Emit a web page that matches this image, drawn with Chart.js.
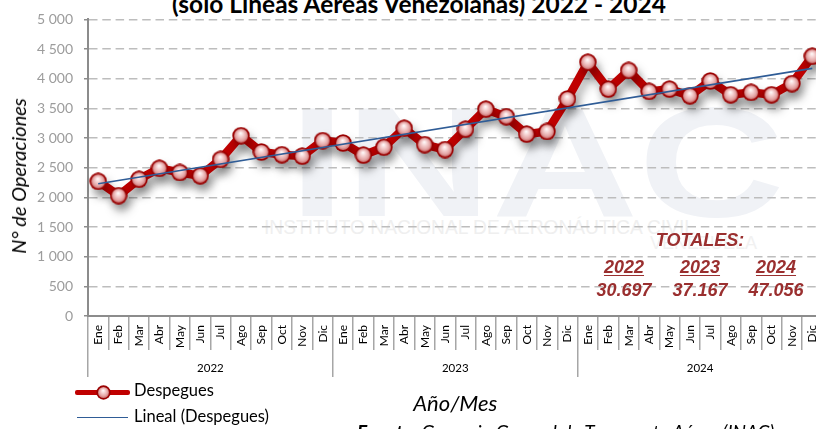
<!DOCTYPE html>
<html><head><meta charset="utf-8">
<script src="https://cdn.jsdelivr.net/npm/chart.js@4"></script>
<style>
html,body{margin:0;padding:0;background:#fff;overflow:hidden;width:816px;height:429px;}
#wrap{position:relative;width:816px;height:429px;overflow:hidden;background:#fff;}
#c{position:absolute;left:0;top:0;z-index:2;}
.wm{position:absolute;white-space:nowrap;line-height:1;z-index:1;transform-origin:0 0;}
.t{position:absolute;white-space:nowrap;line-height:1.2;z-index:3;}
.tot{position:absolute;white-space:nowrap;font-family:"Liberation Sans",Arial,sans-serif;font-weight:bold;font-style:italic;font-size:18px;color:#9A2F2F;line-height:1;transform:translate(-50%,-50%);z-index:3;}
#legend div,#legend canvas{z-index:3;}
</style></head><body>
<div id="wrap">
<div class="wm" style="left:289px;top:84px;font-family:'Liberation Sans';font-weight:bold;font-size:156px;color:#F0F2F6;transform:scaleX(1.3);">INAC</div>
<div class="wm" style="left:264px;top:217px;font-family:'Liberation Sans';font-size:20px;color:#EFEFEF;transform:scaleX(0.96);">INSTITUTO NACIONAL DE AERONÁUTICA CIVIL</div>
<div class="wm" style="left:650px;top:234px;font-family:'Liberation Sans';font-size:18px;color:#F1F1F1;">VENEZUELA</div>
<canvas id="c" width="840" height="429"></canvas>
<div class="t" id="title" style="left:419px;top:-10.7px;transform:translateX(-50%);font-family:Lato;font-weight:bold;font-size:24.5px;background:#fff;color:#000;">(solo Líneas Aéreas Venezolanas) 2022 - 2024</div>
<div class="t" id="ytitle" style="left:18px;top:176px;transform:translate(-50%,-50%) rotate(-90deg);font-family:Lato;font-style:italic;font-size:20px;color:#000;">N° de Operaciones</div>
<div id="totals"></div>
<div id="legend">
  <div style="position:absolute;left:75px;top:389.5px;width:55px;height:5px;background:#C00000;border-radius:2px;"></div>
  <canvas id="lgSphere" width="15" height="15" style="position:absolute;left:95.5px;top:384.5px;"></canvas>
  <div class="t" style="left:134px;top:381px;font-family:Lato;font-size:16.5px;color:#000;">Despegues</div>
  <div style="position:absolute;left:77px;top:416.5px;width:51px;height:1.6px;background:#2F5C96;"></div>
  <div class="t" style="left:134px;top:407px;font-family:Lato;font-size:16.5px;color:#000;">Lineal (Despegues)</div>
</div>
<div class="t" id="src" style="left:357px;top:421px;font-family:Lato;font-style:italic;font-size:19px;color:#000;"><b>Fuente:</b> Gerencia General de Transporte Aéreo (INAC)</div>
</div>
<script>
// ---- data ----
const months = ['Ene','Feb','Mar','Abr','May','Jun','Jul','Ago','Sep','Oct','Nov','Dic'];
const years = ['2022','2023','2024'];
const despegues2022 = [2270, 2030, 2305, 2490, 2420, 2365, 2640, 3040, 2765, 2720, 2695, 2957];
const despegues2023 = [2917, 2712, 2845, 3166, 2889, 2806, 3149, 3487, 3360, 3066, 3111, 3659];
const despegues2024 = [4278, 3825, 4140, 3787, 3825, 3713, 3962, 3730, 3770, 3730, 3918, 4378];
const trendStart = 2230;
const trendEnd = 4175;
const totalLabel = 'TOTALES:';
const totalValues = ['30.697', '37.167', '47.056'];
const yMin = 0, yMax = 5000, yStep = 500;

// ---- build ----
const labels = years.flatMap(() => months);
const values = [...despegues2022, ...despegues2023, ...despegues2024];
const trend = values.map((v, i) => i === 0 ? trendStart : (i === values.length - 1 ? trendEnd : null));
const fmt = v => String(v).replace(/\B(?=(\d{3})+(?!\d))/g, ' ');

function sphere(d) {
  const c = document.createElement('canvas');
  c.width = c.height = d;
  const g = c.getContext('2d');
  const r = d / 2;
  g.beginPath(); g.arc(r, r, r - 0.3, 0, Math.PI * 2); g.fillStyle = '#9A0000'; g.fill();
  const gr = g.createRadialGradient(r * 0.95, r * 0.7, 0, r, r, r - 1.8);
  gr.addColorStop(0, '#FFFFFF');
  gr.addColorStop(0.3, '#F8DADA');
  gr.addColorStop(0.75, '#E3A3A3');
  gr.addColorStop(1, '#C56565');
  g.beginPath(); g.arc(r, r, r - 2, 0, Math.PI * 2); g.fillStyle = gr; g.fill();
  return c;
}
function drawSphereOn(canvas) {
  const s = sphere(canvas.width);
  canvas.getContext('2d').drawImage(s, 0, 0);
}
drawSphereOn(document.getElementById('lgSphere'));

// totals text
const tWrap = document.getElementById('totals');
const totX = [624, 700, 776];
function addTot(text, x, y, underline) {
  const d = document.createElement('div');
  d.className = 'tot';
  d.textContent = text;
  d.style.left = x + 'px'; d.style.top = y + 'px';
  if (underline) { d.style.textDecoration = 'underline'; d.style.textUnderlineOffset = '2px'; }
  tWrap.appendChild(d);
}
addTot(totalLabel, 700, 240, false);
years.forEach((y, i) => addTot(y, totX[i], 267, true));
totalValues.forEach((v, i) => addTot(v, totX[i], 290, false));

const shadowPlugin = {
  id: 'shadow',
  beforeDatasetDraw(chart, args) {
    if (chart.data.datasets[args.index].label === 'Despegues') {
      const c = chart.ctx; c.save();
      c.shadowColor = 'rgba(0,0,0,0.32)'; c.shadowBlur = 10; c.shadowOffsetX = 3; c.shadowOffsetY = 7;
    }
  },
  afterDatasetDraw(chart, args) {
    if (chart.data.datasets[args.index].label === 'Despegues') chart.ctx.restore();
  }
};

const gray = '#A6A6A6';
new Chart(document.getElementById('c'), {
  type: 'line',
  data: {
    labels,
    datasets: [
      { label: 'Despegues', data: values, borderColor: '#C00000', backgroundColor: '#C00000', borderWidth: 8.5,
        pointStyle: sphere(18), pointRadius: 9, pointHoverRadius: 9, tension: 0, order: 2,
        borderJoinStyle: 'round', borderCapStyle: 'round' },
      { label: 'Lineal (Despegues)', data: trend, borderColor: '#2F5C96', borderWidth: 1.6,
        pointRadius: 0, pointHoverRadius: 0, spanGaps: true, order: 1 }
    ]
  },
  plugins: [shadowPlugin],
  options: {
    responsive: false, animation: false, devicePixelRatio: 1, events: [],
    layout: { padding: { top: 15, right: 9, bottom: 12, left: 0 } },
    plugins: { legend: { display: false }, tooltip: { enabled: false } },
    scales: {
      y: {
        min: yMin, max: yMax,
        afterFit: s => { s.width = 88; },
        ticks: { stepSize: yStep, callback: v => fmt(v), color: '#9C9C9C', font: { family: 'Lato', size: 14 }, padding: 11 },
        grid: { color: c => (c.tick && c.tick.value === 0) ? 'rgba(0,0,0,0)' : '#BDBDBD', lineWidth: 1.5,
                tickColor: '#8C8C8C', tickLength: 4, tickWidth: 1.5 },
        border: { display: true, color: '#8C8C8C', width: 2, dash: [8.5, 4.8] }
      },
      x: {
        weight: 1, offset: true,
        afterFit: s => { s.height = 34; },
        grid: { offset: true, drawOnChartArea: false, drawTicks: true, tickLength: 34, color: gray, lineWidth: 1.5, tickColor: gray, tickWidth: 1.5 },
        border: { display: true, color: '#8C8C8C', width: 2 },
        ticks: { autoSkip: false, minRotation: 90, maxRotation: 90, padding: -25, color: '#000', font: { family: 'Lato', size: 12 } }
      },
      x2: {
        type: 'category', labels: years, position: 'bottom', weight: 2, offset: true,
        afterFit: s => { s.height = 67; },
        grid: { offset: true, drawOnChartArea: false, drawTicks: true, tickLength: 27, color: gray, lineWidth: 1.5, tickColor: gray, tickWidth: 1.5 },
        border: { display: false },
        ticks: { padding: -16, color: '#000', font: { family: 'Lato', size: 11.5 } },
        title: { display: true, text: 'Año/Mes', color: '#000', font: { family: 'Lato', size: 22, style: 'italic' }, padding: { top: 0, bottom: 0 } }
      }
    }
  }
});
</script>
</body></html>
